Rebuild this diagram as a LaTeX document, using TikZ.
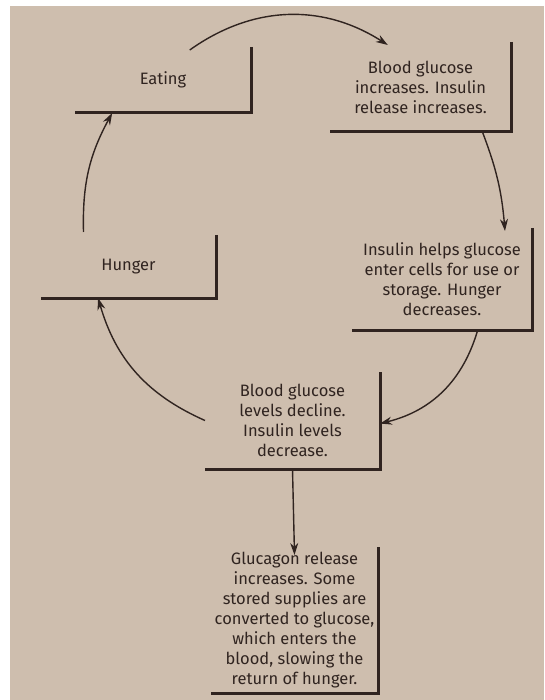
\documentclass[tikz,border=0pt]{standalone}
\usepackage{fontspec}
\setmainfont{Fira Sans}
\usetikzlibrary{arrows.meta}
\definecolor{paper}{RGB}{206,190,174}
\definecolor{ink}{RGB}{48,36,32}
\begin{document}
\begin{tikzpicture}[x=1pt,y=-1pt,
		step box/.style={inner sep=0pt,outer sep=0pt,align=center,text=ink,
			font=\fontsize{16.5}{20}\selectfont},
		frame/.style={draw=ink,line width=3pt},
		link/.style={draw=ink,line width=1.4pt,-{Stealth[length=12pt,width=8pt]}}]
	\useasboundingbox (0,0) rectangle (544,700);
	\fill[white] (0,0) rectangle (544,700);
	\fill[paper] (10,6) rectangle (544,700);
	% the cycle
	\node[step box,minimum width=176pt,minimum height=66pt] (eat) at (163,80) {Eating};
	\node[step box,minimum width=181pt,minimum height=90pt] (blood) at (420.5,87)
		{Blood glucose\\increases. Insulin\\release increases.};
	\node[step box,minimum width=180pt,minimum height=102pt] (ins) at (442,279)
		{Insulin helps glucose\\enter cells for use or\\storage. Hunger\\decreases.};
	\node[step box,minimum width=175pt,minimum height=63pt] (hun) at (128.5,266.5) {Hunger};
	\node[step box,minimum width=175pt,minimum height=97pt] (dec) at (292.5,420.5)
		{Blood glucose\\levels decline.\\Insulin levels\\decrease.};
	\node[step box,minimum width=167pt,minimum height=146pt] (glu) at (294.5,620)
		{Glucagon release\\increases. Some\\stored supplies are\\converted to glucose,\\which enters the\\blood, slowing the\\return of hunger.};
	\foreach \n in {eat,blood,ins,hun,dec,glu}
		\draw[frame] (\n.north east) |- (\n.south west);
	% arrows
	\draw[link] ([yshift=-3pt]eat.51) to[bend left=34] ([yshift=-3pt]blood.126);
	\draw[link] (blood.-36) to[bend left=8] ([yshift=-3pt]ins.39);
	\draw[link] (ins.-55) to[bend left=30] (dec.-2);
	\draw[link] (dec.180) to[bend left=25] (hun.-134);
	\draw[link] ([yshift=3pt]hun.145) to[bend left=15] (eat.-147);
	\draw[link] (dec.south) -- ([yshift=-8pt]glu.north);
\end{tikzpicture}
\end{document}
